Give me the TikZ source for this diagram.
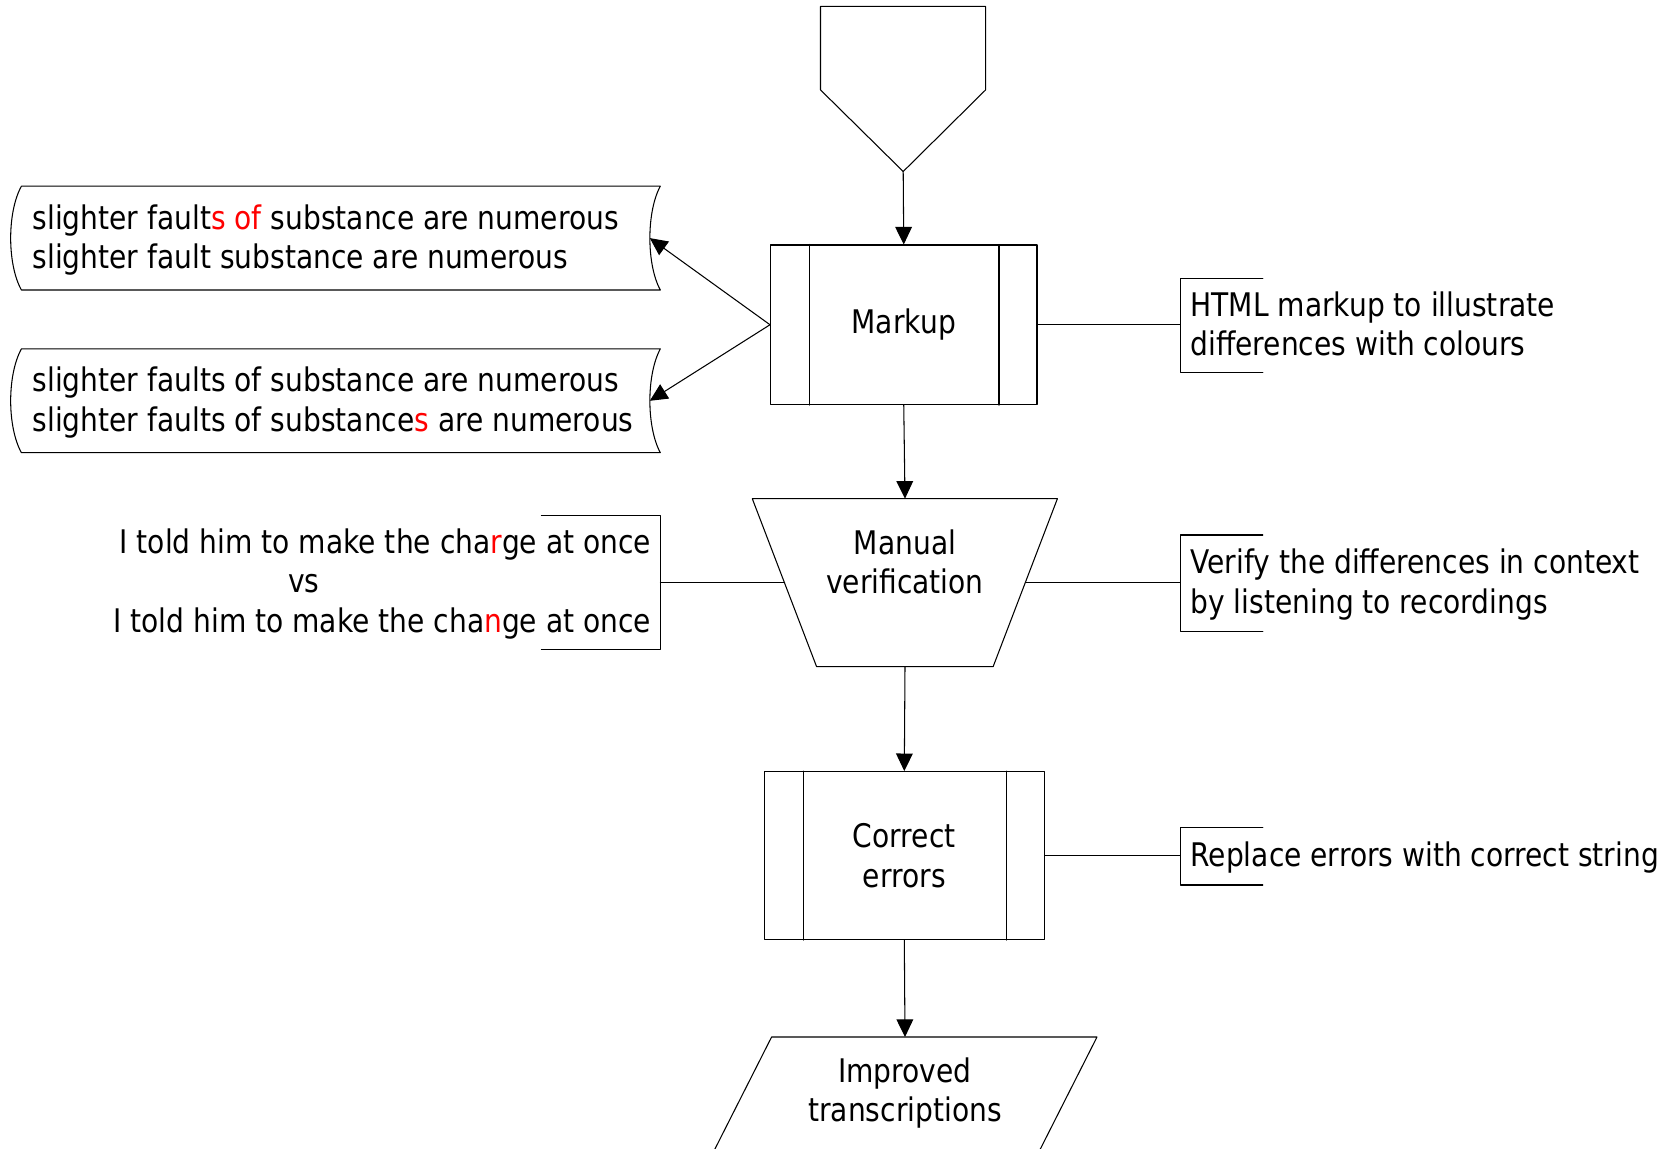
\documentclass[tikz,border=0pt]{standalone}
\usepackage{fontspec}
\setmainfont{DejaVu Sans}[FakeStretch=0.865]
\usetikzlibrary{arrows.meta}

\begin{document}
\begin{tikzpicture}[x=0.02cm,y=-0.02cm,line cap=round,line join=round,line width=0.6pt,
  font=\fontsize{18.5}{22.4}\selectfont,
  ar/.style={-{Triangle[length=10pt,width=9.5pt]}},
  proc/.style={draw,rectangle,align=center,inner sep=0pt},
  note/.style={inner sep=0pt,align=left,anchor=west}]
  \useasboundingbox (0,0) rectangle (1678,1149);
  % off-page connector
  \draw (820.5,6.4) -- (985.6,6.4) -- (985.6,89.9) -- (903.2,171.5) -- (820.5,89.9) -- cycle;
  \coordinate (offpage) at (903.2,171.5);
  % main column
  \node[proc,minimum width=5.33cm,minimum height=3.19cm] (markup) at (903.75,324.75) {Markup};
  \draw ([xshift=0.79cm]markup.north west) -- ([xshift=0.79cm]markup.south west);
  \draw ([xshift=-0.77cm]markup.north east) -- ([xshift=-0.77cm]markup.south east);
  \draw (752.3,498.7) -- (1057.4,498.7) -- (993.1,666.7) -- (816.6,666.7) -- cycle;
  \coordinate (verifytop) at (905,498.7);
  \coordinate (verifybottom) at (905,666.7);
  \coordinate (verifyleft) at (784.5,582.7);
  \coordinate (verifyright) at (1025.3,582.7);
  \node[align=center,inner sep=0pt] (verify) at (905,562) {Manual\\verification};
  \node[proc,minimum width=5.61cm,minimum height=3.36cm] (correct) at (904.3,855.6) {Correct\\errors};
  \draw ([xshift=0.79cm]correct.north west) -- ([xshift=0.79cm]correct.south west);
  \draw ([xshift=-0.77cm]correct.north east) -- ([xshift=-0.77cm]correct.south east);
  \draw (771.6,1037) -- (1097,1037) -- (1038.3,1153) -- (712.9,1153) -- cycle;
  \coordinate (improvedtop) at (905,1037);
  \node[align=center,inner sep=0pt] (improved) at (905,1093) {Improved\\transcriptions};
  % stored data boxes
  \draw (21.4,186.2) -- (660.3,186.2) .. controls (646.4,212) and (646.4,264.3) .. (660.3,290)
    -- (21.4,290) .. controls (7.1,264.3) and (7.1,212) .. (21.4,186.2) -- cycle;
  \node[note] (faultsAtext) at (32.1,240) {slighter fault\textcolor{red}{s of} substance are numerous\\slighter fault substance are numerous};
  \coordinate (faultsA) at (649.8,238.1);
  \draw (21.4,348.9) -- (660.3,348.9) .. controls (646.4,374.9) and (646.4,426.7) .. (660.3,452.7)
    -- (21.4,452.7) .. controls (7.1,426.7) and (7.1,374.9) .. (21.4,348.9) -- cycle;
  \node[note] (faultsBtext) at (32.1,402.5) {slighter faults of substance are numerous\\slighter faults of substance\textcolor{red}{s} are numerous};
  \coordinate (faultsB) at (649.8,400.8);
  % annotations
  \draw (1262.8,278.3) -- (1180.4,278.3) -- (1180.4,372.4) -- (1262.8,372.4);
  \coordinate (htmlmark) at (1180.4,324.75);
  \node[note] (htmlnote) at (1190,323.7) {HTML markup to illustrate\\differences with colours};
  \draw (1262.8,535) -- (1180.4,535) -- (1180.4,631.4) -- (1262.8,631.4);
  \coordinate (checkmark) at (1180.4,582.7);
  \node[note] (checknote) at (1190,584.7) {Verify the differences in context\\by listening to recordings};
  \draw (1262.8,827.3) -- (1180.4,827.3) -- (1180.4,885) -- (1262.8,885);
  \coordinate (replacemark) at (1180.4,855.6);
  \node[note] (replacenote) at (1190,858) {Replace errors with correct string};
  \draw (541.5,515.8) -- (660.3,515.8) -- (660.3,649.6) -- (541.5,649.6);
  \coordinate (changemark) at (660.3,582.7);
  \node[note,anchor=east,align=right] (changenote) at (651.7,583.8) {I told him to make the cha\textcolor{red}{r}ge at once\\\makebox[7.26cm][l]{vs}\\I told him to make the cha\textcolor{red}{n}ge at once};
  % connectors
  \draw[ar] (offpage) -- (markup.north);
  \draw[ar] (markup.west) -- (faultsA);
  \draw[ar] (markup.west) -- (faultsB);
  \draw[ar] (markup.south) -- (verifytop);
  \draw[ar] (verifybottom) -- (correct.north);
  \draw[ar] (correct.south) -- (improvedtop);
  \draw (markup.east) -- (htmlmark);
  \draw (verifyright) -- (checkmark);
  \draw (verifyleft) -- (changemark);
  \draw (correct.east) -- (replacemark);
\end{tikzpicture}
\end{document}
